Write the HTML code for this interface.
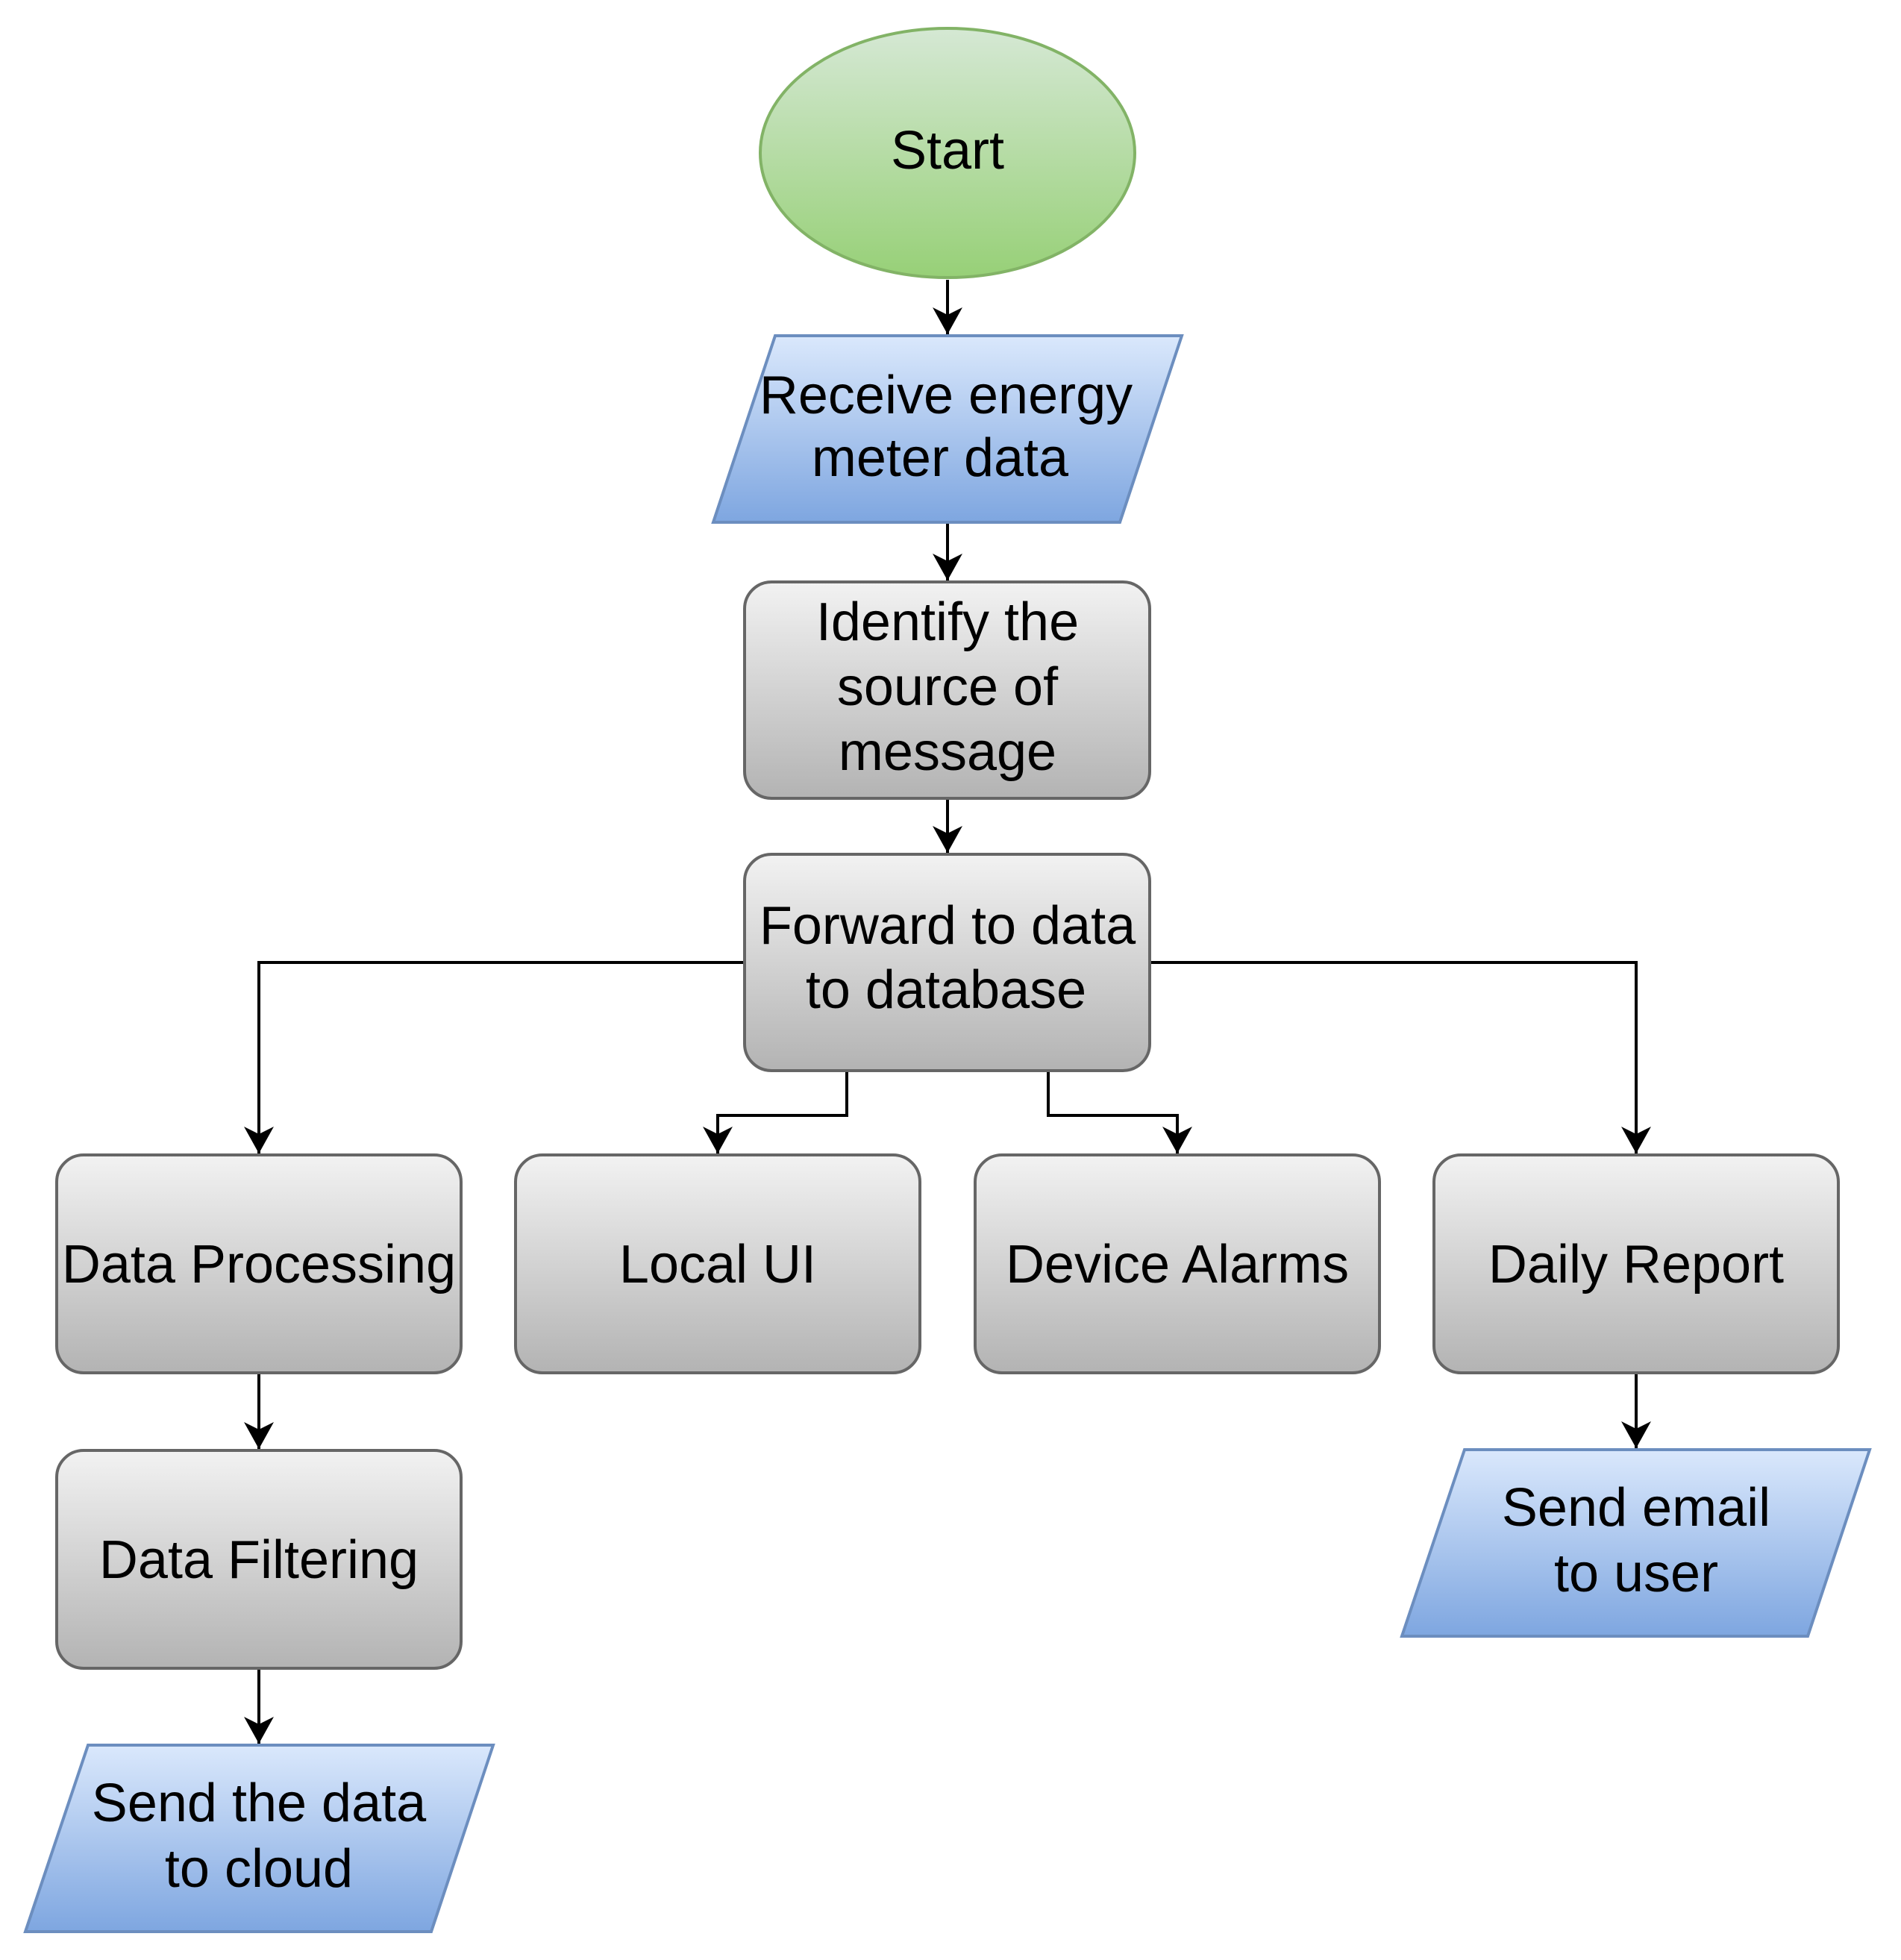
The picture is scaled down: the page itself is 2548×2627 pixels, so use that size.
<!DOCTYPE html>
<html><head><meta charset="utf-8"><style>html,body{margin:0;padding:0;background:#fff}svg{display:block}</style></head>
<body>
<svg width="2548" height="2627" viewBox="0 0 2548 2627" xmlns="http://www.w3.org/2000/svg" font-family="'Liberation Sans', Arial, sans-serif" font-size="72" text-anchor="middle">
<defs>
<linearGradient id="g" x1="0" y1="0" x2="0" y2="1"><stop offset="0" stop-color="#f2f2f2"/><stop offset="1" stop-color="#b3b3b3"/></linearGradient>
<linearGradient id="b" x1="0" y1="0" x2="0" y2="1"><stop offset="0" stop-color="#dae8fc"/><stop offset="1" stop-color="#7ea6e0"/></linearGradient>
<linearGradient id="gr" x1="0" y1="0" x2="0" y2="1"><stop offset="0" stop-color="#d5e8d4"/><stop offset="1" stop-color="#97d077"/></linearGradient>
<marker id="a" markerUnits="userSpaceOnUse" markerWidth="44" markerHeight="40" refX="36" refY="20" orient="auto"><path d="M0,0 L36,20 L0,40 L10,20 Z" fill="#000"/></marker>
</defs>
<g fill="none" stroke="#000" stroke-width="4">
<path d="M1270,375 V448" marker-end="url(#a)"/>
<path d="M1270,702 V778" marker-end="url(#a)"/>
<path d="M1270,1072 V1143" marker-end="url(#a)"/>
<path d="M998,1290 H347 V1546" marker-end="url(#a)"/>
<path d="M1541,1290 H2193 V1546" marker-end="url(#a)"/>
<path d="M1135,1437 V1495 H962 V1546" marker-end="url(#a)"/>
<path d="M1405,1437 V1495 H1578 V1546" marker-end="url(#a)"/>
<path d="M347,1842 V1942" marker-end="url(#a)"/>
<path d="M347,2238 V2337" marker-end="url(#a)"/>
<path d="M2193,1842 V1941" marker-end="url(#a)"/>
</g>
<ellipse cx="1270" cy="205" rx="251" ry="167" fill="url(#gr)" stroke="#82b366" stroke-width="4"/>
<path d="M1039,450 H1584 L1501,700 H956 Z" fill="url(#b)" stroke="#6c8ebf" stroke-width="4"/>
<g fill="url(#g)" stroke="#666" stroke-width="4">
<rect x="998" y="780" width="543" height="290" rx="36"/>
<rect x="998" y="1145" width="543" height="290" rx="36"/>
<rect x="76" y="1548" width="542" height="292" rx="36"/>
<rect x="691" y="1548" width="542" height="292" rx="36"/>
<rect x="1307" y="1548" width="542" height="292" rx="36"/>
<rect x="1922" y="1548" width="542" height="292" rx="36"/>
<rect x="76" y="1944" width="542" height="292" rx="36"/>
</g>
<path d="M1963,1943 H2506 L2423,2193 H1879 Z" fill="url(#b)" stroke="#6c8ebf" stroke-width="4"/>
<path d="M118,2339 H661 L578,2589 H34 Z" fill="url(#b)" stroke="#6c8ebf" stroke-width="4"/>
<g fill="#000">
<text x="1270" y="226">Start</text>
<text x="1268" y="554">Receive energy</text>
<text x="1260" y="638">meter data</text>
<text x="1270" y="858">Identify the</text>
<text x="1270" y="945">source of</text>
<text x="1270" y="1032">message</text>
<text x="1270" y="1265">Forward to data</text>
<text x="1268" y="1351">to database</text>
<text x="347" y="1719">Data Processing</text>
<text x="962" y="1719">Local UI</text>
<text x="1578" y="1719">Device Alarms</text>
<text x="2193" y="1719">Daily Report</text>
<text x="347" y="2115">Data Filtering</text>
<text x="2193" y="2045">Send email</text>
<text x="2193" y="2133">to user</text>
<text x="347" y="2441">Send the data</text>
<text x="347" y="2529">to cloud</text>
</g>
</svg>
</body></html>
